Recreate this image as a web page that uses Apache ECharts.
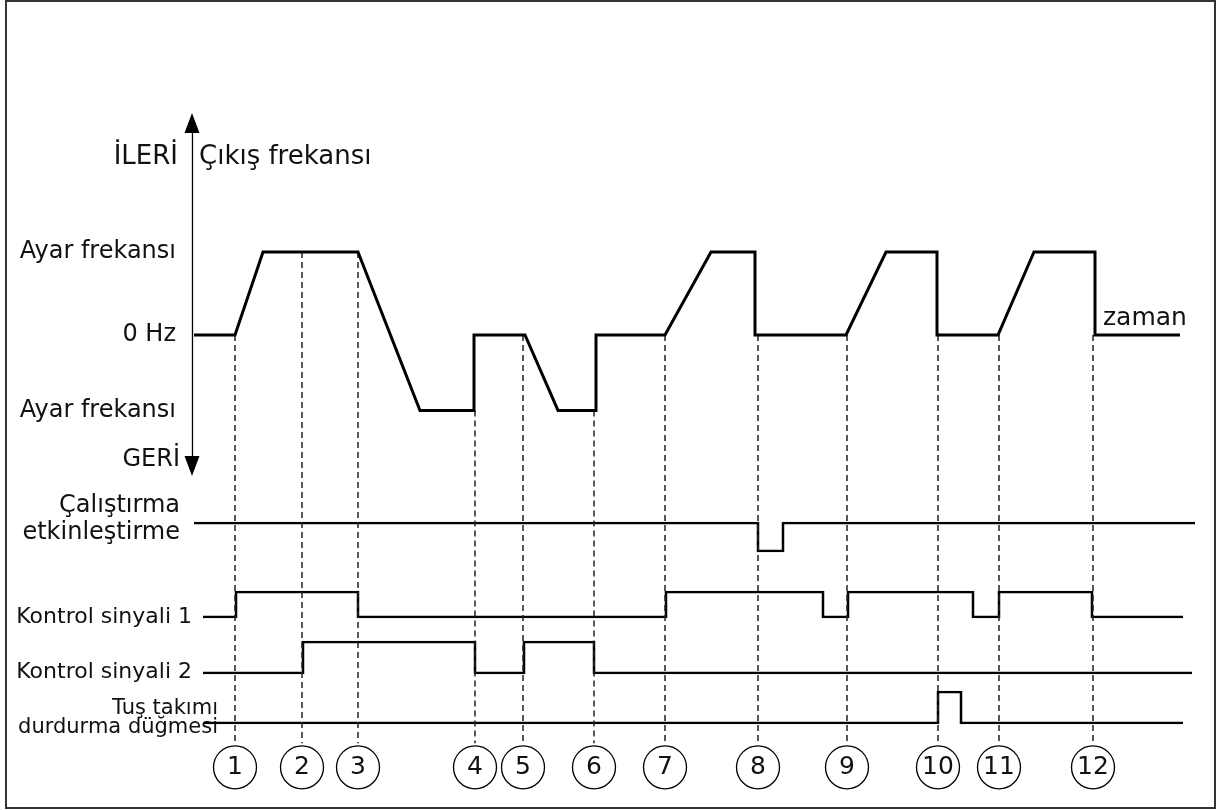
<!DOCTYPE html>
<html>
<head>
<meta charset="utf-8">
<script src="https://cdn.jsdelivr.net/npm/echarts@6/dist/echarts.min.js"></script>
<style>
  html, body { margin: 0; padding: 0; background: #fff; }
  #chart { width: 1217px; height: 810px; }
</style>
</head>
<body>
<div id="chart"></div>
<script>
// zaman ekseni keyfi birimde, olay anları 1..12
const eventTimes = [4.3, 11.0, 16.6, 28.3, 33.1, 40.2, 47.3, 56.6, 65.5, 74.6, 80.7, 90.1]
const eventLabels = ['1', '2', '3', '4', '5', '6', '7', '8', '9', '10', '11', '12']
// kesikli çizgilerin başladığı frekans seviyesi
const guideFrom = [0, 1.1, 1.1, -1, 0, -1, 0, 0, 0, 0, 0, 0]

// çıkış frekansı (ileri ayar = 1.1, geri ayar = -1)
const freqTimes = [0.2, 4.3, 7.1, 16.6, 22.8, 28.2, 28.2, 33.3, 36.6, 40.4, 40.4, 47.3,
  51.9, 56.3, 56.3, 65.4, 69.4, 74.5, 74.5, 80.6, 84.2, 90.3, 90.3, 98.8]
const freqValues = [0, 0, 1.1, 1.1, -1, -1, 0, 0, -1, -1, 0, 0,
  1.1, 1.1, 0, 0, 1.1, 1.1, 0, 0, 1.1, 1.1, 0, 0]
const freqTicks = [1.1, 0, -1]
const freqTickLabels = ['Ayar frekansı', '0 Hz', 'Ayar frekansı']

// dijital sinyaller: değişim anı ve yeni seviye
const enableTimes = [0.2, 56.6, 59.1, 100.3]
const enableLevels = [1, 0, 1, 1]
const k1Times = [1.1, 4.4, 16.6, 47.4, 63.1, 65.6, 78.1, 80.7, 90.0, 99.1]
const k1Levels = [0, 1, 0, 1, 0, 1, 0, 1, 0, 0]
const k2Times = [1.1, 11.1, 28.3, 33.2, 40.2, 100.0]
const k2Levels = [0, 1, 0, 1, 0, 0]
const keyTimes = [1.2, 74.6, 76.9, 99.1]
const keyLevels = [0, 1, 0, 0]

const FONT = '"DejaVu Sans", Verdana, sans-serif'
const X_MAX = 101.7
// frekans ızgarasının düşey sınırları (aynı ölçekte)
const Y_MAX = 2.942, Y_MIN = -6.03
const GUIDE_END = -5.41, CIRCLE_ROW = -5.73

const zip = (a, b) => a.map((v, i) => [v, b[i]])

const chart = echarts.init(document.getElementById('chart'), null, { renderer: 'canvas' })

const sigGrids = [
  { top: 523, height: 28 },
  { top: 592, height: 25 },
  { top: 642, height: 31 },
  { top: 692, height: 31 }
]
const sigData = [
  zip(enableTimes, enableLevels),
  zip(k1Times, k1Levels),
  zip(k2Times, k2Levels),
  zip(keyTimes, keyLevels)
]

const grids = [{ left: 192, right: 8, top: 113, bottom: 20 }]
  .concat(sigGrids.map(g => ({ left: 192, right: 8, top: g.top, height: g.height })))

const xAxes = grids.map((g, i) => ({
  type: 'value', gridIndex: i, min: 0, max: X_MAX, show: false
}))
const yAxes = [{
  type: 'value', gridIndex: 0, min: Y_MIN, max: Y_MAX,
  axisLine: { show: false }, axisTick: { show: false }, splitLine: { show: false },
  axisLabel: {
    customValues: freqTicks,
    margin: 16,
    padding: [0, 0, 6, 0],
    color: '#111',
    fontFamily: FONT,
    fontSize: 24,
    formatter: v => freqTickLabels[freqTicks.indexOf(v)]
  }
}].concat(sigGrids.map((g, i) => ({
  type: 'value', gridIndex: i + 1, min: 0, max: 1, show: false
})))

const series = [
  // eksenler (oklu)
  {
    type: 'line', xAxisIndex: 0, yAxisIndex: 0, data: [], silent: true, clip: false,
    markLine: {
      silent: true, animation: false, label: { show: false },
      symbol: ['triangle', 'triangle'], symbolSize: [15, 20],
      lineStyle: { color: '#000', width: 1.3, type: 'solid' },
      data: [[{ coord: [0, -1.736] }, { coord: [0, 2.81] }]]
    }
  },
  {
    type: 'line', xAxisIndex: 0, yAxisIndex: 0, data: [], silent: true, clip: false,
    markLine: {
      silent: true, animation: false, label: { show: false },
      symbol: ['none', 'triangle'], symbolSize: [16, 19],
      lineStyle: { color: '#000', width: 1, type: 'solid' },
      data: [[{ coord: [-0.4, 0] }, { coord: [100.75, 0] }]]
    }
  },
  // ayar frekansı noktalı çizgileri
  {
    type: 'line', xAxisIndex: 0, yAxisIndex: 0, data: [], silent: true, clip: false,
    markLine: {
      silent: true, animation: false, label: { show: false }, symbol: 'none',
      lineStyle: { color: '#222', width: 1, type: [3, 3] },
      data: [1.1, -1].map(v => [{ coord: [-0.4, v] }, { coord: [99.8, v] }])
    }
  },
  // olay kılavuz çizgileri
  {
    type: 'line', xAxisIndex: 0, yAxisIndex: 0, data: [], silent: true, clip: false,
    markLine: {
      silent: true, animation: false, label: { show: false }, symbol: 'none',
      lineStyle: { color: '#222', width: 1.5, type: [6, 4] },
      data: eventTimes.map((t, i) => [{ coord: [t, guideFrom[i]] }, { coord: [t, GUIDE_END] }])
    }
  },
  // çıkış frekansı
  {
    type: 'line', xAxisIndex: 0, yAxisIndex: 0, data: zip(freqTimes, freqValues),
    symbol: 'none', animation: false, z: 5,
    lineStyle: { color: '#000', width: 3, join: 'miter' }
  },
  // numaralı daireler
  {
    type: 'scatter', xAxisIndex: 0, yAxisIndex: 0, animation: false, z: 6,
    data: eventTimes.map(t => [t, CIRCLE_ROW]),
    symbol: 'circle', symbolSize: 43,
    itemStyle: { color: '#fff', borderColor: '#000', borderWidth: 1.3, opacity: 1 },
    label: {
      show: true, position: 'inside', color: '#111', fontFamily: FONT, fontSize: 25,
      formatter: p => eventLabels[p.dataIndex]
    }
  }
].concat(sigData.map((d, i) => ({
  type: 'line', xAxisIndex: i + 1, yAxisIndex: i + 1, data: d,
  step: 'end', symbol: 'none', animation: false,
  lineStyle: { color: '#000', width: 2.5, join: 'miter' }
})))

const txt = (text, x, y, align, size) => ({
  type: 'text', x: x, y: y, silent: true,
  style: {
    text: text, fill: '#111', font: size + 'px ' + FONT,
    align: align, verticalAlign: 'middle'
  }
})

const option = {
  backgroundColor: '#fff',
  animation: false,
  grid: grids,
  xAxis: xAxes,
  yAxis: yAxes,
  series: series,
  graphic: [
    { type: 'rect', shape: { x: 6, y: 1, width: 1209, height: 807 },
      style: { fill: null, stroke: '#333', lineWidth: 2 }, silent: true },
    txt('İLERİ', 178, 157, 'right', 26),
    txt('Çıkış frekansı', 199, 157, 'left', 26),
    txt('GERİ', 180, 460, 'right', 24),
    txt('zaman', 1103, 318, 'left', 25),
    txt('Çalıştırma', 180, 506, 'right', 24),
    txt('etkinleştirme', 180, 533, 'right', 24),
    txt('Kontrol sinyali 1', 192, 617, 'right', 22),
    txt('Kontrol sinyali 2', 192, 672, 'right', 22),
    txt('Tuş takımı', 218, 709, 'right', 21),
    txt('durdurma düğmesi', 218, 728, 'right', 21)
  ]
}

chart.setOption(option)
</script>
</body>
</html>
